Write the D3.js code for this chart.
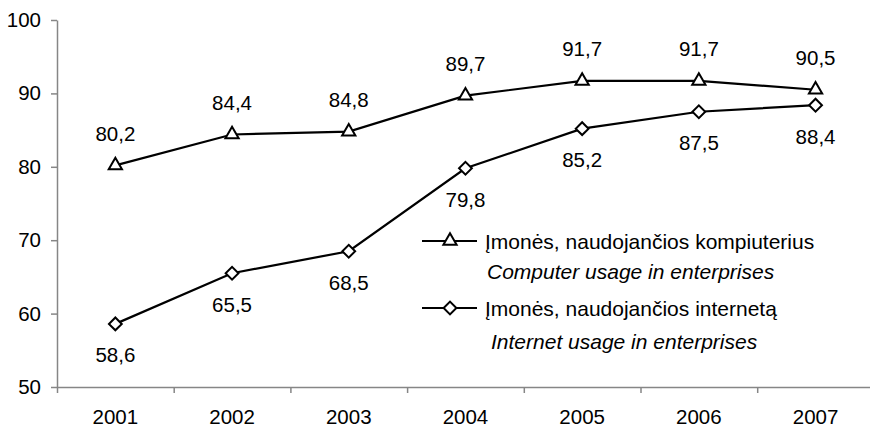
<!DOCTYPE html>
<html><head><meta charset="utf-8">
<script src="https://cdn.jsdelivr.net/npm/d3@7"></script>
<style>
html,body{margin:0;padding:0;background:#fff;}
svg{display:block;font-family:"Liberation Sans",Arial,sans-serif;}
</style></head>
<body><svg id="chart" width="870" height="427"></svg>
<script>
const years = ["2001","2002","2003","2004","2005","2006","2007"];
const computerUsage = [80.2, 84.4, 84.8, 89.7, 91.7, 91.7, 90.5];
const internetUsage = [58.6, 65.5, 68.5, 79.8, 85.2, 87.5, 88.4];
const yTicks = [50, 60, 70, 80, 90, 100];
const legendLt = ["Įmonės, naudojančios kompiuterius", "Įmonės, naudojančios internetą"];
const legendEn = ["Computer usage in enterprises", "Internet usage in enterprises"];

const svg = d3.select("#chart");
const plotLeft = 57, bandW = 116.7, plotTop = 20, plotBottom = 387;
const fs = "20.5px";
const lfs = "21px";
const axisColor = "#868686";

const y = d3.scaleLinear().domain([50, 100]).range([plotBottom, plotTop]);
const x = d3.scaleBand().domain(years).range([plotLeft, plotLeft + bandW * years.length]).padding(0);
const xb = d3.scaleLinear().domain([0, years.length]).range([plotLeft, plotLeft + bandW * years.length]);
const cx = d => x(d) + x.bandwidth() / 2;

// Y axis
const gy = svg.append("g").attr("transform", `translate(${plotLeft},0)`)
  .call(d3.axisLeft(y).tickValues(yTicks).tickSize(6).tickSizeOuter(0).tickPadding(10).tickFormat(d3.format("d")));
gy.select(".domain").attr("stroke", axisColor).attr("stroke-width", 1.5);
gy.selectAll(".tick line").attr("stroke", axisColor).attr("stroke-width", 1.5);
gy.selectAll(".tick text").attr("font-size", fs).attr("fill", "#000").attr("font-family", "Liberation Sans, Arial, sans-serif");

// X axis boundaries
const gxb = svg.append("g").attr("transform", `translate(0,${plotBottom})`)
  .call(d3.axisBottom(xb).tickValues(d3.range(years.length + 1)).tickSize(6).tickSizeOuter(0).tickFormat(""));
gxb.select(".domain").attr("stroke", axisColor).attr("stroke-width", 1.5);
gxb.selectAll(".tick line").attr("stroke", axisColor).attr("stroke-width", 1.5);

// X labels
const gx = svg.append("g").attr("transform", `translate(0,${plotBottom})`)
  .call(d3.axisBottom(x).tickSize(0).tickPadding(22));
gx.select(".domain").remove();
gx.selectAll(".tick text").attr("font-size", fs).attr("fill", "#000").attr("font-family", "Liberation Sans, Arial, sans-serif");

const line = d3.line().x((d, i) => cx(years[i])).y(d => y(d));
const fmt = v => d3.format(".1f")(v).replace(".", ",");

const triSym = d3.symbol().type(d3.symbolTriangle).size(76);
const diaSym = d3.symbol().type(d3.symbolSquare).size(82);

function series(vals, sym, rot, labelOffset) {
  svg.append("path").datum(vals).attr("d", line)
    .attr("fill", "none").attr("stroke", "#000").attr("stroke-width", 2.2);
  svg.selectAll(null).data(vals).enter().append("path")
    .attr("d", sym)
    .attr("transform", (d, i) => `translate(${cx(years[i])},${y(d)}) rotate(${rot})`)
    .attr("fill", "#fff").attr("stroke", "#000").attr("stroke-width", 2);
  svg.selectAll(null).data(vals).enter().append("text")
    .attr("x", (d, i) => cx(years[i]))
    .attr("y", d => y(d) + labelOffset)
    .attr("text-anchor", "middle").attr("dominant-baseline", "central")
    .attr("font-size", fs).attr("fill", "#000")
    .text(fmt);
}
series(computerUsage, triSym, 0, -32);
series(internetUsage, diaSym, 45, 31);

// Legend
const legRows = [
  { y: 241, y2: 271, sym: triSym, rot: 0, x2: 487 },
  { y: 308, y2: 341, sym: diaSym, rot: 45, x2: 491 }
];
legRows.forEach((r, i) => {
  svg.append("line").attr("x1", 422).attr("x2", 477).attr("y1", r.y).attr("y2", r.y)
    .attr("stroke", "#000").attr("stroke-width", 2.2);
  svg.append("path").attr("d", r.sym).attr("transform", `translate(450,${r.y}) rotate(${r.rot})`)
    .attr("fill", "#fff").attr("stroke", "#000").attr("stroke-width", 2);
  svg.append("text").attr("x", 485).attr("y", r.y).attr("dominant-baseline", "central")
    .attr("font-size", lfs).attr("fill", "#000").text(legendLt[i]);
  svg.append("text").attr("x", r.x2).attr("y", r.y2).attr("dominant-baseline", "central")
    .attr("font-size", lfs).attr("font-style", "italic").attr("fill", "#000").text(legendEn[i]);
});
</script></body></html>
